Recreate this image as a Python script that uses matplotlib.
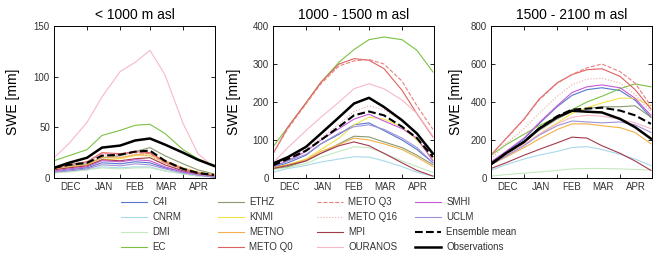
import matplotlib
matplotlib.use("Agg")
import matplotlib.pyplot as plt
import numpy as np

plt.rcParams['font.family'] = ['Liberation Sans', 'DejaVu Sans']

# days since 1 Dec at which values were read
days = [0, 14, 31, 45, 62, 76, 90, 104, 121, 135, 150]

models = ["C4I", "CNRM", "DMI", "EC", "ETHZ", "KNMI", "METNO", "METO Q0",
          "METO Q3", "METO Q16", "MPI", "OURANOS", "SMHI", "UCLM"]
colors = ["#5577cc", "#a8d8ea", "#c5e8c0", "#7cc142", "#8a9a70", "#f2e24a",
          "#f2b04a", "#e06060", "#e88080", "#e8a8a8", "#a33a4a", "#f7b8c8",
          "#c65ad6", "#a090d8"]
styles = ["-", "-", "-", "-", "-", "-", "-", "-", "--", ":", "-", "-", "-", "-"]

titles = ["< 1000 m asl", "1000 - 1500 m asl", "1500 - 2100 m asl"]
ylims = [150, 400, 800]
ysteps = [50, 100, 200]

# < 1000 m
low = {
    "C4I":      [6, 8, 10, 15, 14, 16, 15, 10, 6, 3, 1],
    "CNRM":     [5, 7, 8, 11, 10, 11, 11, 7, 4, 2, 1],
    "DMI":      [5, 6, 8, 10, 9, 10, 10, 7, 4, 2, 1],
    "EC":       [17, 22, 28, 42, 47, 52, 53, 44, 28, 19, 13],
    "ETHZ":     [10, 12, 14, 20, 22, 26, 30, 22, 14, 8, 4],
    "KNMI":     [8, 10, 12, 18, 19, 22, 22, 15, 9, 5, 3],
    "METNO":    [9, 11, 13, 20, 20, 23, 24, 17, 10, 6, 3],
    "METO Q0":  [10, 13, 16, 25, 24, 26, 25, 16, 9, 5, 2],
    "METO Q3":  [10, 13, 16, 24, 23, 25, 24, 15, 8, 5, 2],
    "METO Q16": [9, 12, 15, 22, 21, 23, 22, 14, 8, 4, 2],
    "MPI":      [8, 10, 12, 18, 17, 19, 20, 13, 7, 4, 2],
    "OURANOS":  [20, 34, 55, 80, 105, 114, 126, 102, 54, 24, 11],
    "SMHI":     [7, 9, 11, 17, 16, 18, 17, 11, 6, 3, 1],
    "UCLM":     [6, 7, 9, 13, 12, 14, 13, 9, 5, 3, 1],
}
low_mean = [10, 13, 15, 22, 23, 26, 27, 17, 9, 5, 3]
low_obs = [10, 15, 20, 30, 32, 37, 39, 33, 25, 18, 12]

# 1000 - 1500 m
mid = {
    "C4I":      [28, 40, 60, 90, 115, 140, 145, 125, 100, 75, 40],
    "CNRM":     [15, 25, 33, 42, 50, 56, 55, 45, 30, 15, 5],
    "DMI":      [22, 28, 38, 55, 70, 82, 80, 65, 45, 30, 15],
    "EC":       [82, 134, 198, 252, 305, 338, 364, 371, 364, 336, 279],
    "ETHZ":     [25, 30, 45, 65, 90, 110, 108, 95, 80, 60, 35],
    "KNMI":     [25, 35, 50, 75, 105, 140, 160, 155, 135, 100, 50],
    "METNO":    [28, 35, 48, 70, 88, 105, 100, 90, 75, 55, 30],
    "METO Q0":  [64, 134, 198, 252, 300, 314, 310, 288, 231, 169, 108],
    "METO Q3":  [64, 130, 195, 248, 295, 308, 312, 300, 255, 190, 128],
    "METO Q16": [33, 52, 75, 105, 142, 175, 190, 180, 150, 118, 65],
    "MPI":      [25, 33, 45, 65, 85, 95, 85, 65, 40, 20, 5],
    "OURANOS":  [40, 80, 125, 160, 200, 235, 248, 235, 205, 170, 110],
    "SMHI":     [30, 45, 70, 100, 130, 155, 168, 150, 130, 105, 45],
    "UCLM":     [30, 45, 62, 90, 118, 135, 140, 128, 105, 80, 40],
}
mid_mean = [33, 50, 72, 100, 135, 165, 175, 165, 135, 105, 55]
mid_obs = [38, 55, 82, 117, 160, 196, 211, 187, 152, 117, 64]

# 1500 - 2100 m
high = {
    "C4I":      [80, 135, 205, 285, 375, 435, 465, 475, 460, 410, 320],
    "CNRM":     [40, 70, 100, 120, 140, 160, 165, 150, 125, 100, 65],
    "DMI":      [10, 18, 25, 32, 40, 48, 50, 50, 48, 45, 42],
    "EC":       [120, 175, 230, 275, 320, 360, 400, 430, 470, 495, 480],
    "ETHZ":     [85, 130, 190, 250, 310, 350, 365, 375, 375, 380, 320],
    "KNMI":     [80, 120, 175, 230, 290, 340, 370, 395, 420, 420, 380],
    "METNO":    [70, 110, 160, 205, 255, 285, 285, 275, 265, 240, 180],
    "METO Q0":  [121, 207, 311, 414, 501, 544, 570, 575, 535, 466, 363],
    "METO Q3":  [121, 205, 308, 410, 498, 545, 580, 600, 560, 500, 380],
    "METO Q16": [100, 180, 260, 340, 430, 490, 520, 525, 500, 440, 350],
    "MPI":      [50, 80, 120, 150, 185, 215, 210, 170, 130, 90, 40],
    "OURANOS":  [75, 120, 175, 230, 285, 320, 330, 325, 310, 290, 260],
    "SMHI":     [85, 140, 210, 290, 380, 450, 480, 490, 475, 420, 330],
    "UCLM":     [70, 115, 170, 225, 275, 300, 295, 290, 295, 280, 240],
}
high_mean = [75, 130, 190, 260, 325, 360, 365, 370, 355, 330, 285]
high_obs = [72, 130, 190, 259, 320, 354, 349, 345, 311, 268, 207]

panels = [(low, low_mean, low_obs), (mid, mid_mean, mid_obs), (high, high_mean, high_obs)]

fig = plt.figure(figsize=(6.62, 2.57), dpi=100)
lefts = [54, 273, 491]
ylab_x = [-0.21, -0.2, -0.175]
month_starts = [31, 62, 90, 121]
month_mid = [15.5, 46.5, 76, 105.5, 135.5]
month_names = ["DEC", "JAN", "FEB", "MAR", "APR"]

handles = []
for i, (data, mean, obs) in enumerate(panels):
    ax = fig.add_axes([lefts[i] / 662, 1 - 178 / 257, 161 / 662, 152 / 257])
    hs = []
    for m, c, ls in zip(models, colors, styles):
        h, = ax.plot(days, data[m], color=c, ls=ls, lw=0.8, label=m)
        hs.append(h)
    h, = ax.plot(days, mean, color="black", ls="--", lw=1.5, label="Ensemble mean")
    hs.append(h)
    h, = ax.plot(days, obs, color="black", lw=1.8, label="Observations")
    hs.append(h)
    if i == 0:
        handles = hs
    ax.set_xlim(0, 151)
    ax.set_ylim(0, ylims[i])
    ax.set_yticks(np.arange(0, ylims[i] + 1, ysteps[i]))
    ax.set_xticks(month_starts)
    ax.set_xticklabels([])
    ax.set_xticks(month_mid, minor=True)
    ax.set_xticklabels(month_names, minor=True)
    ax.tick_params(which="major", direction="in", top=True, right=True,
                   length=3, width=0.6, labelsize=7, pad=3, labelcolor="#333333")
    ax.tick_params(which="minor", length=0, labelsize=7, pad=3, labelcolor="#333333")
    ax.set_title(titles[i], fontsize=10, pad=5)
    ax.set_ylabel("SWE [mm]", fontsize=10)
    ax.yaxis.set_label_coords(ylab_x[i], 0.5)
    for s in ax.spines.values():
        s.set_linewidth(0.7)

col_x = [121, 218, 317, 415]
for k in range(4):
    fig.legend(handles[4 * k:4 * k + 4], [h.get_label() for h in handles[4 * k:4 * k + 4]],
               loc="upper left", bbox_to_anchor=(col_x[k] / 662, 1 - 197 / 257),
               frameon=False, fontsize=7, handlelength=2.7, handletextpad=0.5,
               borderpad=0, borderaxespad=0, labelspacing=0.52, labelcolor="#333333")

fig.savefig("out.png", dpi=100)
